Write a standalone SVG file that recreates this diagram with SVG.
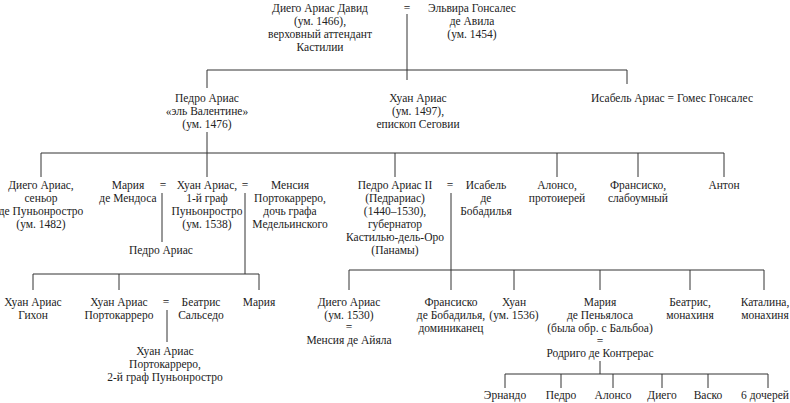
<svg xmlns="http://www.w3.org/2000/svg" width="790" height="403" viewBox="0 0 790 403" font-family="'Liberation Serif', 'DejaVu Serif', serif">
<style>
text{font-family:'Liberation Serif','DejaVu Serif',serif;font-size:11.5px;fill:#222;text-anchor:middle}
.c path{stroke:#333;stroke-width:1;fill:none}
</style>
<rect width="790" height="403" fill="#fff"/>
<g class="c">
<path d="M407 14V80M207 70H627M207 70V88M627 70V84"/>
<path d="M207 132V177M41 153H724M41 153V177M395 153V177M557 153V177M638 153V177M724 153V177"/>
<path d="M162 193V242M245 193V274M33 274H259M33 274V290M119 274V290M259 274V290M167 310V342"/>
<path d="M451 193V290M349 270H764M349 270V290M514 270V290M600 270V290M690 270V290M764 270V290"/>
<path d="M600 361V374M505 374H768M505 374V388M561 374V388M613 374V388M662 374V388M708 374V388M768 374V388"/>
</g>
<g id="n-diego"><text x="320" y="12">Диего Ариас Давид</text><text x="320" y="25">(ум. 1466),</text><text x="320" y="38">верховный аттендант</text><text x="320" y="51">Кастилии</text></g>
<g id="m1"><text x="407" y="12">=</text></g>
<g id="n-elvira"><text x="472" y="12">Эльвира Гонсалес</text><text x="472" y="25">де Авила</text><text x="472" y="38">(ум. 1454)</text></g>
<g id="n-pedro"><text x="207" y="102">Педро Ариас</text><text x="207" y="115">«эль Валентине»</text><text x="207" y="128">(ум. 1476)</text></g>
<g id="n-juanb"><text x="418" y="102">Хуан Ариас</text><text x="418" y="115">(ум. 1497),</text><text x="418" y="128">епископ Сеговии</text></g>
<g id="n-isabel"><text x="672" y="102">Исабель Ариас = Гомес Гонсалес</text></g>
<g id="n-diego2"><text x="41" y="189">Диего Ариас,</text><text x="41" y="202">сеньор</text><text x="41" y="215">де Пуньонростро</text><text x="41" y="228">(ум. 1482)</text></g>
<g id="n-maria"><text x="128" y="189">Мария</text><text x="128" y="202">де Мендоса</text></g>
<g id="m2"><text x="163" y="189">=</text></g>
<g id="n-juan1"><text x="207" y="189">Хуан Ариас,</text><text x="207" y="202">1-й граф</text><text x="207" y="215">Пуньонростро</text><text x="207" y="228">(ум. 1538)</text></g>
<g id="m3"><text x="245" y="189">=</text></g>
<g id="n-mencia"><text x="290" y="189">Менсия</text><text x="290" y="202">Портокарреро,</text><text x="290" y="215">дочь графа</text><text x="290" y="228">Медельинского</text></g>
<g id="n-pedroa"><text x="161" y="254">Педро Ариас</text></g>
<g id="n-pedro2"><text x="395" y="189">Педро Ариас II</text><text x="395" y="202">(Педрариас)</text><text x="395" y="215">(1440–1530),</text><text x="395" y="228">губернатор</text><text x="395" y="241">Кастилью-дель-Оро</text><text x="395" y="254">(Панамы)</text></g>
<g id="m4"><text x="450" y="189">=</text></g>
<g id="n-isabelb"><text x="486" y="189">Исабель</text><text x="486" y="202">де</text><text x="486" y="215">Бобадилья</text></g>
<g id="n-alonso"><text x="557" y="189">Алонсо,</text><text x="557" y="202">протоиерей</text></g>
<g id="n-fran"><text x="638" y="189">Франсиско,</text><text x="638" y="202">слабоумный</text></g>
<g id="n-anton"><text x="724" y="189">Антон</text></g>
<g id="n-jag"><text x="33" y="306">Хуан Ариас</text><text x="33" y="319">Гихон</text></g>
<g id="n-jap"><text x="119" y="306">Хуан Ариас</text><text x="119" y="319">Портокарреро</text></g>
<g id="m5"><text x="166" y="306">=</text></g>
<g id="n-beas"><text x="201" y="306">Беатрис</text><text x="201" y="319">Сальседо</text></g>
<g id="n-maria2"><text x="259" y="306">Мария</text></g>
<g id="n-jap2"><text x="165" y="355">Хуан Ариас</text><text x="165" y="368">Портокарреро,</text><text x="165" y="381">2-й граф Пуньонростро</text></g>
<g id="n-diego3"><text x="349" y="306">Диего Ариас</text><text x="349" y="319">(ум. 1530)</text><text x="349" y="331">=</text><text x="349" y="344">Менсия де Айяла</text></g>
<g id="n-franb"><text x="451" y="306">Франсиско</text><text x="451" y="319">де Бобадилья,</text><text x="451" y="332">доминиканец</text></g>
<g id="n-juan3"><text x="514" y="306">Хуан</text><text x="514" y="319">(ум. 1536)</text></g>
<g id="n-mariap"><text x="600" y="306">Мария</text><text x="600" y="319">де Пеньялоса</text><text x="600" y="332">(была обр. с Бальбоа)</text><text x="600" y="345">=</text><text x="600" y="357">Родриго де Контрерас</text></g>
<g id="n-bea"><text x="690" y="306">Беатрис,</text><text x="690" y="319">монахиня</text></g>
<g id="n-kat"><text x="765" y="306">Каталина,</text><text x="765" y="319">монахиня</text></g>
<g id="n-kids"><text x="505" y="399">Эрнандо</text><text x="561" y="399">Педро</text><text x="613" y="399">Алонсо</text><text x="662" y="399">Диего</text><text x="708" y="399">Васко</text><text x="765" y="399">6 дочерей</text></g>
</svg>
